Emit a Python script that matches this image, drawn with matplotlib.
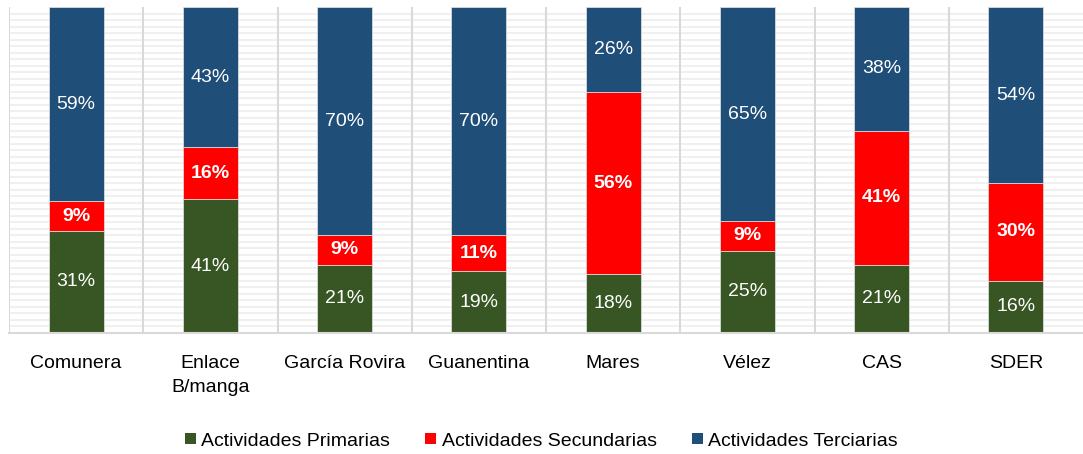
import matplotlib
matplotlib.use("Agg")
import matplotlib.pyplot as plt
from matplotlib import font_manager
from matplotlib.patches import Patch
import numpy as np

categories = ["Comunera", "Enlace\nB/manga", "García Rovira", "Guanentina",
              "Mares", "Vélez", "CAS", "SDER"]
primarias = [31, 41, 21, 19, 18, 25, 21, 16]
secundarias = [9, 16, 9, 11, 56, 9, 41, 30]
terciarias = [59, 43, 70, 70, 26, 65, 38, 54]

series = ["Actividades Primarias", "Actividades Secundarias", "Actividades Terciarias"]
colors = ["#375623", "#FF0000", "#1F4E79"]

names = {f.name for f in font_manager.fontManager.ttflist}
if "Liberation Sans Narrow" in names:
    plt.rcParams["font.family"] = ["Liberation Sans Narrow", "DejaVu Sans"]
    fs = 17
else:
    plt.rcParams["font.family"] = ["Liberation Sans", "DejaVu Sans"]
    fs = 14

data = np.array([primarias, secundarias, terciarias], dtype=float)
shares = data / data.sum(axis=0)
x = np.arange(len(categories))

fig = plt.figure(figsize=(10.83, 4.54), dpi=100)
ax = fig.add_axes([9 / 1083, 121 / 454, 1074 / 1083, 326 / 454])

for y in np.arange(0.02, 1.0, 0.02):
    ax.axhline(y, color="#f0f0f0", linewidth=1.4, zorder=0)
for b in np.arange(-0.5, len(categories) - 0.5):
    ax.axvline(b, color="#d9d9d9", linewidth=1.5, zorder=1)

bottom = np.zeros(len(categories))
for i, (name, color) in enumerate(zip(series, colors)):
    ax.bar(x, shares[i], 0.41, bottom=bottom, color=color, edgecolor="#e6e6e6",
           linewidth=0.5, zorder=2, label=name)
    for xi, b, h, v in zip(x, bottom, shares[i], data[i]):
        ax.text(xi, b + h / 2, f"{v:.0f}%", ha="center", va="center", color="white",
                fontsize=fs, fontweight="bold" if i == 1 else "normal", zorder=3)
    bottom += shares[i]

ax.set_xlim(-0.5, len(categories) - 0.5)
ax.set_ylim(0, 1)
ax.set_yticks([])
ax.set_xticks(x)
ax.set_xticklabels(categories, fontsize=fs, linespacing=1.55)
ax.tick_params(axis="x", length=0, pad=16)
for side in ["top", "right", "left"]:
    ax.spines[side].set_visible(False)
ax.spines["bottom"].set_color("#d9d9d9")
ax.spines["bottom"].set_linewidth(1.5)

handles = [Patch(facecolor=c, label=s) for s, c in zip(series, colors)]
fig.legend(handles=handles, loc="center", bbox_to_anchor=(0.5, 13 / 454), ncol=3,
           frameon=False, fontsize=fs, handlelength=0.55, handleheight=0.55,
           handletextpad=0.3, columnspacing=1.8)

fig.savefig("out.png", dpi=100)
